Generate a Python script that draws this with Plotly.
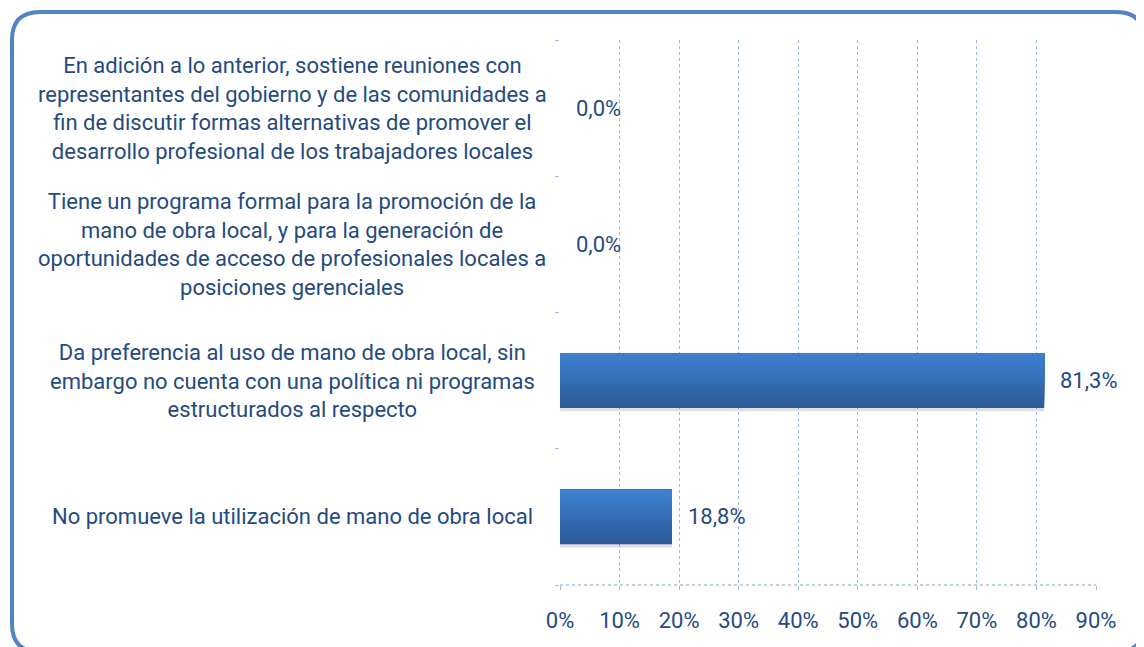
import plotly.graph_objects as go

# datos (de abajo hacia arriba)
categorias = [
    "No promueve la utilización de mano de obra local",
    "Da preferencia al uso de mano de obra local, sin<br>embargo no cuenta con una política ni programas<br>estructurados al respecto",
    "Tiene un programa formal para la promoción de la<br>mano de obra local, y para la generación de<br>oportunidades de acceso de profesionales locales a<br>posiciones gerenciales",
    "En adición a lo anterior, sostiene reuniones con<br>representantes del gobierno y de las comunidades a<br>fin de discutir formas alternativas de promover el<br>desarrollo profesional de los trabajadores locales",
]
valores = [18.8, 81.3, 0.0, 0.0]
etiquetas = ["18,8%", "81,3%", "0,0%", "0,0%"]
ticks_x = [0, 10, 20, 30, 40, 50, 60, 70, 80, 90]
ticks_x_txt = [f"{t}%" for t in ticks_x]

# la pagina tiene 8px de margen en el body
OFF = 8
W, H = 1144, 647
ML, MT = 560 - OFF, 40 - OFF
MR = W - (1096 - OFF)
MB = H - (585 - OFF)
PW, PH = W - ML - MR, H - MT - MB

AZUL_TXT = "#244A80"
FUENTE = "Roboto, Liberation Sans, sans-serif"

fig = go.Figure()

ancho = 0.40

# sombra
fig.add_trace(go.Bar(
    x=valores, y=categorias, orientation="h",
    width=ancho, offset=-ancho / 2 - 0.025,
    marker=dict(color="rgba(0,0,0,0.12)", line=dict(width=0)),
    showlegend=False, hoverinfo="skip",
))

# barras con degradado (franjas superpuestas)
n = 16
c_bajo = (0x2C, 0x5B, 0x98)
c_alto = (0x3D, 0x80, 0xD0)
for k in range(n):
    t = k / (n - 1)
    col = tuple(round(a + (b - a) * t) for a, b in zip(c_bajo, c_alto))
    fig.add_trace(go.Bar(
        x=valores, y=categorias, orientation="h",
        width=ancho - k * ancho / n, offset=-ancho / 2 + k * ancho / n,
        marker=dict(color="rgb(%d,%d,%d)" % col, line=dict(width=0)),
        showlegend=False, hoverinfo="skip",
    ))

# etiquetas de valores
for v, c, e in zip(valores, categorias, etiquetas):
    fig.add_annotation(x=v, y=c, text=e, showarrow=False, xanchor="left",
                       xshift=14, font=dict(size=22, color=AZUL_TXT, family=FUENTE))

# etiquetas de categoria
for c in categorias:
    fig.add_annotation(x=(292 - OFF - ML) / PW, xref="paper", y=c, text=c, showarrow=False,
                       align="center", xanchor="center",
                       font=dict(size=22, color=AZUL_TXT, family=FUENTE))

# linea inferior punteada
fig.add_shape(type="line", xref="paper", yref="paper", x0=0, x1=1, y0=0, y1=0,
              line=dict(color="#7FA3D6", width=1, dash="dot"))


# marco redondeado (coordenadas de pantalla)
def px(xp, yp):
    return f"{(xp - OFF - ML) / PW:.5f},{1 - (yp - OFF - MT) / PH:.5f}"


x0, x1, y0, y1, r = 12, 1144, 12, 652, 28
path = (f"M {px(x0 + r, y0)} L {px(x1 - r, y0)} Q {px(x1, y0)} {px(x1, y0 + r)} "
        f"L {px(x1, y1 - r)} Q {px(x1, y1)} {px(x1 - r, y1)} "
        f"L {px(x0 + r, y1)} Q {px(x0, y1)} {px(x0, y1 - r)} "
        f"L {px(x0, y0 + r)} Q {px(x0, y0)} {px(x0 + r, y0)} Z")
fig.add_shape(type="path", xref="paper", yref="paper", path=path,
              line=dict(color="#5283C2", width=4), layer="above")

fig.update_layout(
    width=W, height=H,
    margin=dict(l=ML, r=MR, t=MT, b=MB),
    barmode="overlay",
    plot_bgcolor="white", paper_bgcolor="white",
    font=dict(family=FUENTE, color=AZUL_TXT),
    xaxis=dict(range=[0, 90], tickvals=ticks_x, ticktext=ticks_x_txt,
               showgrid=True, gridcolor="#9DB9E0", griddash="dot", gridwidth=1,
               zeroline=False, ticks="outside", ticklen=4, tickcolor="#9DB9E0",
               ticklabelstandoff=12,
               tickfont=dict(size=22, color=AZUL_TXT), showline=False, fixedrange=True),
    yaxis=dict(categoryorder="array", categoryarray=categorias, showticklabels=False,
               showgrid=False, zeroline=False, ticks="outside", tickson="boundaries",
               ticklen=4, tickcolor="#9DB9E0", showline=False, fixedrange=True),
)

fig.write_html("out.html")
